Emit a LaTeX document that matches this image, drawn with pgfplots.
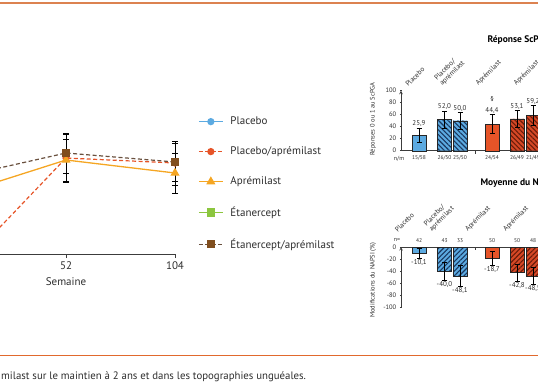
\documentclass[border=0pt]{standalone}
\usepackage{pgfplots}
\pgfplotsset{compat=1.18}
\usepackage{pgfplotstable}
\usepackage{fontspec}
\setmainfont{PT Sans}
\usetikzlibrary{patterns.meta}
\definecolor{cBlue}{RGB}{92,170,225}
\definecolor{cNavy}{RGB}{25,55,95}
\definecolor{cRed}{RGB}{230,84,40}
\definecolor{cRedFill}{RGB}{214,72,38}
\definecolor{cRedDark}{RGB}{105,28,10}
\definecolor{cOrange}{RGB}{245,166,35}
\definecolor{cGreen}{RGB}{140,198,63}
\definecolor{cBrown}{RGB}{128,78,30}
\definecolor{cBrownLine}{RGB}{105,80,62}
\definecolor{cFrame}{RGB}{220,130,80}
\definecolor{cFrameB}{RGB}{225,105,45}
\definecolor{cAxis}{RGB}{60,60,60}
\definecolor{cText}{RGB}{45,45,45}

% line chart (y: arbitrary response scale)
\pgfplotstableread{
x y e
16 8.5 0
52 48 12
104 45.5 11
}\lineRed
\pgfplotstableread{
x y e
16 35 0
52 47 10.5
104 40.5 10
}\lineOrange
\pgfplotstableread{
x y e
16 42 0
52 50.5 10
104 46 9.5
}\lineBrown

% ScPGA response (%)
\pgfplotstableread{
x y e lab
419 25.9 12 25,9
}\topPla
\pgfplotstableread{
x y e lab
444.5 52.0 14 52,0
460 50.0 14 50,0
}\topPlaApr
\pgfplotstableread{
x y e lab
492 44.4 16 44,4
}\topApr
\pgfplotstableread{
x y e lab
517 53.1 14 53,1
533 59.2 16 59,2
}\topAprH

% NAPSI change (%)
\pgfplotstableread{
x y e lab
419 -10.1 8 -10,1
}\botPla
\pgfplotstableread{
x y e lab
444.5 -40.0 15 -40,0
460 -48.1 18 -48,1
}\botPlaApr
\pgfplotstableread{
x y e lab
492 -18.7 12 -18,7
}\botApr
\pgfplotstableread{
x y e lab
517 -42.8 14 -42,8
533 -48.5 14 -48,5
}\botAprH

\tikzset{catlab/.style={rotate=45, anchor=south west, font=\fontsize{7}{7.5}\selectfont, text=cText, inner sep=0pt, align=left}}

\pgfplotsset{
  smallbars/.style={
    scale only axis, width=159pt, height=60pt,
    xmin=401, xmax=560,
    axis line style={-, cAxis, line width=0.6pt},
    xtick={419,444.5,460,492,517,533},
    major x tick style={draw=none},
    x tick label style={font=\fontsize{5.5}{6.5}\selectfont, text=cText},
    y tick label style={font=\fontsize{6.5}{7}\selectfont, text=cText},
    /pgf/number format/assume math mode=true,
    tick align=outside, major tick length=2.5pt, tick style={cAxis, line width=0.5pt},
    clip=false,
    nodes near coords, point meta=explicit symbolic,
    visualization depends on={\thisrow{e}\as\err},
    error bars/error bar style={black, line width=0.5pt},
    error bars/error mark options={rotate=90, mark size=2.5pt, black, line width=0.5pt},
  },
  bars/.style={ybar, bar width=14pt, bar shift=0pt, draw=black!85, line width=0.4pt},
}

\begin{document}
\begin{tikzpicture}
\path[use as bounding box] (0pt,0pt) rectangle (538pt,384pt);
\clip (0pt,0pt) rectangle (538pt,384pt);

% frame lines and caption
\draw[cFrame, line width=1.5pt] (0pt,381pt) -- (538pt,381pt);
\draw[cFrameB, line width=1pt] (0pt,29pt) -- (538pt,29pt);
\node[anchor=west, font=\fontsize{10.8}{12}\selectfont, text=cText, inner sep=0pt] at (1pt,7pt)
  {milast sur le maintien à 2 ans et dans les topographies unguéales.};

% ---------------- line chart ----------------
\begin{axis}[
  at={(0pt,130pt)}, anchor=south west,
  scale only axis, width=175pt, height=200pt,
  xmin=20.5, xmax=104, ymin=0, ymax=100,
  axis x line=bottom, axis y line=none,
  axis line style={-, cAxis, line width=0.7pt},
  xtick={52,104}, tick align=outside, major tick length=4pt,
  tick style={cAxis, line width=0.6pt},
  x tick label style={font=\fontsize{11}{12}\selectfont, text=cText},
  /pgf/number format/assume math mode=true,
  clip=false,
  error bars/error bar style={black, line width=0.6pt, solid},
  error bars/error mark options={rotate=90, mark size=3pt, black, line width=0.6pt, solid},
  legend style={at={(1.1314,0.686)}, anchor=north west, draw=none, fill=none,
    inner sep=0pt, row sep=20.6pt, column sep=7pt,
    font=\fontsize{11}{12}\selectfont, nodes={inner sep=0pt, text=cText}},
  legend cell align=left,
  legend image code/.code={\draw[#1, mark indices={2}] plot coordinates {(0pt,0pt)(12pt,0pt)(24pt,0pt)};},
]
\addlegendimage{color=cBlue, line width=1.2pt, mark=*, mark size=3pt, mark options={fill=cBlue}}
\addplot[color=cRed, line width=1.2pt, dash pattern=on 4pt off 2.5pt, mark=*, mark size=3pt,
  mark options={solid, fill=cRed}, mark indices={2,3},
  error bars/.cd, y dir=both, y explicit] table[x=x, y=y, y error=e]{\lineRed};
\addplot[color=cOrange, line width=1.3pt, mark=triangle*, mark size=4pt,
  mark options={solid, fill=cOrange}, mark indices={2,3},
  error bars/.cd, y dir=both, y explicit] table[x=x, y=y, y error=e]{\lineOrange};
\addlegendimage{color=cGreen, line width=1.2pt, mark=square*, mark size=3.5pt, mark options={fill=cGreen}}
\addplot[color=cBrownLine, line width=1.2pt, dash pattern=on 4pt off 2.5pt, mark=square*, mark size=3.5pt,
  mark options={solid, fill=cBrown, draw=cBrown}, mark indices={2,3},
  error bars/.cd, y dir=both, y explicit] table[x=x, y=y, y error=e]{\lineBrown};
\legend{Placebo, Placebo/aprémilast, Aprémilast, Étanercept, Étanercept/aprémilast}
\node[font=\fontsize{11}{12}\selectfont, text=cText] at (axis cs:52,0) [yshift=-28pt] {Semaine};
\end{axis}

% ---------------- ScPGA bars ----------------
\node[anchor=west, font=\bfseries\fontsize{9.5}{10}\selectfont, text=black] at (484pt,344pt) {Réponse ScPGA};
\node[rotate=90, font=\fontsize{6.5}{7}\selectfont, text=cText] at (373pt,265pt) {Réponses 0 ou 1 au ScPGA};
\node[font=\fontsize{6}{7}\selectfont, text=cText] at (399pt,225pt) {n/m};
\begin{axis}[
  smallbars,
  at={(401pt,233.3pt)}, anchor=south west,
  ymin=0, ymax=100, ytick={0,20,...,100},
  axis x line=bottom, axis y line=left,
  xticklabels={15/58,26/50,25/50,24/54,26/49,21/49},
  every node near coord/.append style={anchor=south, yshift={0.6*\err}, inner sep=1pt,
    font=\fontsize{7}{8}\selectfont, text=cText},
]
\addplot[bars, fill=cBlue, error bars/.cd, y dir=both, y explicit]
  table[x=x, y=y, y error=e, meta=lab]{\topPla};
\addplot[bars, fill=cBlue, postaction={pattern={Lines[angle=-45,distance=3.4pt,line width=1.1pt]}, pattern color=cNavy},
  error bars/.cd, y dir=both, y explicit]
  table[x=x, y=y, y error=e, meta=lab]{\topPlaApr};
\addplot[bars, fill=cRed, error bars/.cd, y dir=both, y explicit]
  table[x=x, y=y, y error=e, meta=lab]{\topApr};
\addplot[bars, fill=cRedFill, postaction={pattern={Lines[angle=-45,distance=3.4pt,line width=1.1pt]}, pattern color=cRedDark},
  error bars/.cd, y dir=both, y explicit]
  table[x=x, y=y, y error=e, meta=lab]{\topAprH};
\node[font=\fontsize{7}{8}\selectfont, text=cText] at (axis cs:492,60.4) [yshift=15pt] {\S};
\draw[cAxis, line width=0.5pt] (axis cs:475,0) -- ++(0pt,-3pt);
\node[catlab] at (axis cs:412,100) [yshift=5pt] {Placebo};
\node[catlab] at (axis cs:447,100) [yshift=5pt] {Placebo/\\aprémilast};
\node[catlab] at (axis cs:483,100) [yshift=5pt] {Aprémilast};
\node[catlab] at (axis cs:521,100) [yshift=5pt] {Aprémilast};
\end{axis}

% ---------------- NAPSI bars ----------------
\node[anchor=west, font=\bfseries\fontsize{9.5}{10}\selectfont, text=black] at (477pt,201pt) {Moyenne du NAPSI};
\node[rotate=90, font=\fontsize{6.5}{7}\selectfont, text=cText] at (373pt,104pt) {Modifications du NAPSI (\%)};
\node[font=\fontsize{6}{7}\selectfont, text=cText] at (397pt,144pt) {n=};
\begin{axis}[
  smallbars,
  at={(401pt,77pt)}, anchor=south west,
  ymin=-100, ymax=0, ytick={-100,-80,...,0},
  axis x line=top, axis y line=left,
  xticklabels={42,43,33,50,50,48},
  every node near coord/.append style={anchor=north, yshift={-0.6*\err}, inner sep=1pt,
    font=\fontsize{7}{8}\selectfont, text=cText},
]
\addplot[bars, fill=cBlue, error bars/.cd, y dir=both, y explicit]
  table[x=x, y=y, y error=e, meta=lab]{\botPla};
\addplot[bars, fill=cBlue, postaction={pattern={Lines[angle=45,distance=3.4pt,line width=1.1pt]}, pattern color=cNavy},
  error bars/.cd, y dir=both, y explicit]
  table[x=x, y=y, y error=e, meta=lab]{\botPlaApr};
\addplot[bars, fill=cRed, error bars/.cd, y dir=both, y explicit]
  table[x=x, y=y, y error=e, meta=lab]{\botApr};
\addplot[bars, fill=cRedFill, postaction={pattern={Lines[angle=45,distance=3.4pt,line width=1.1pt]}, pattern color=cRedDark},
  error bars/.cd, y dir=both, y explicit]
  table[x=x, y=y, y error=e, meta=lab]{\botAprH};
\draw[cAxis, line width=0.5pt] (axis cs:475,0) -- ++(0pt,-3pt);
\node[catlab] at (axis cs:412,0) [yshift=20pt] {Placebo};
\node[catlab] at (axis cs:447,0) [yshift=20pt] {Placebo/\\aprémilast};
\node[catlab] at (axis cs:483,0) [yshift=20pt] {Aprémilast};
\node[catlab] at (axis cs:521,0) [yshift=20pt] {Aprémilast};
\end{axis}
\end{tikzpicture}
\end{document}
